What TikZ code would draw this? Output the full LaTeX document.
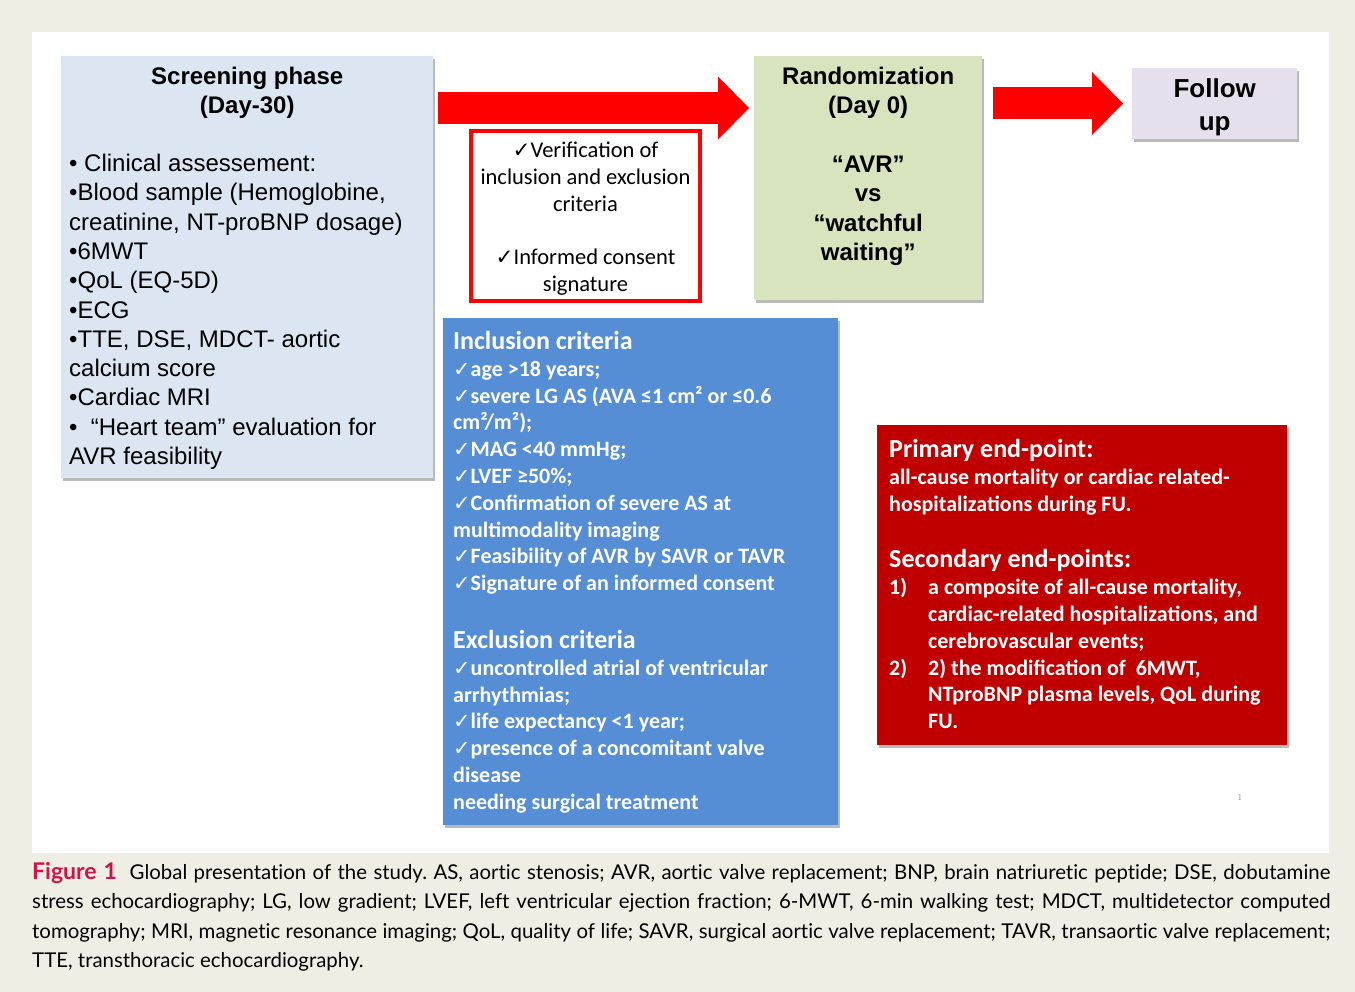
\documentclass[tikz,border=0pt]{standalone}
\usepackage{fontspec}
\usepackage{xcolor}
\usetikzlibrary{positioning, calc, arrows.meta, shadows}
\newfontfamily\arialfont{Liberation Sans}
\newfontfamily\califont{Carlito}
\newfontfamily\capfont{Lato}[Ligatures=NoCommon]
\newfontfamily\symfont{DejaVu Sans}[Scale=0.95]
\newcommand{\chk}{{\symfont ✓}}
\definecolor{pagebeige}{RGB}{239,238,228}
\definecolor{screenblue}{RGB}{220,230,242}
\definecolor{randgreen}{RGB}{215,228,189}
\definecolor{followlilac}{RGB}{230,224,236}
\definecolor{critblue}{RGB}{85,142,213}
\definecolor{endred}{RGB}{192,0,0}
\definecolor{arrowred}{RGB}{255,0,0}
\definecolor{figred}{RGB}{204,20,72}

\begin{document}
\begin{tikzpicture}[x=1pt, y=-1pt,
	box/.style={rectangle, anchor=north west, inner sep=0pt, drop shadow={shadow xshift=2pt, shadow yshift=-3pt, opacity=0.45, fill=black!60}},
	fatarrow/.style={arrowred, line width=32pt, -{Triangle[length=31pt, width=63pt, line width=0pt]}},
	arialtxt/.style={inner sep=0pt, font=\arialfont\fontsize{24}{29.3}\selectfont},
	arialhead/.style={inner sep=0pt, font=\arialfont\bfseries\fontsize{24}{29.3}\selectfont, align=center, anchor=north},
	calitxt/.style={inner sep=0pt, font=\califont\bfseries\fontsize{22}{26.8}\selectfont, text=white, align=left, anchor=north west}]
	\fill[pagebeige] (0,0) rectangle (1355,992);
	\useasboundingbox (0,0) rectangle (1355,992);
	\fill[white] (32,32) rectangle (1329,853);

	% top row
	\node[box, fill=screenblue, minimum width=372pt, minimum height=422pt] (screen) at (61,56) {};
	\node[arialhead] (screenhead) at ($(screen.north)+(0,11)$) {Screening phase\\(Day-30)};
	\node[arialtxt, align=left, anchor=north west] (screenlist) at ($(screen.north west)+(8,98)$) {%
		• Clinical assessement:\\
		•Blood sample (Hemoglobine,\\
		creatinine, NT-proBNP dosage)\\
		•6MWT\\
		•QoL (EQ-5D)\\
		•ECG\\
		•TTE, DSE, MDCT- aortic\\
		calcium score\\
		•Cardiac MRI\\
		•\ \ “Heart team” evaluation for\\
		AVR feasibility};

	\node[box, fill=randgreen, minimum width=228pt, minimum height=244pt] (rand) at (754,56) {};
	\node[arialhead] (randtxt) at ($(rand.north)+(0,11)$) {Randomization\\(Day 0)\\[29.3pt]“AVR”\\vs\\“watchful\\waiting”};

	\node[box, fill=followlilac, minimum width=165pt, minimum height=71pt] (follow) at (1132,68) {};
	\node[arialhead, font=\arialfont\bfseries\fontsize{26}{33}\selectfont] (followtxt) at ($(follow.north)+(0,10)$) {Follow\\up};

	\draw[fatarrow] ($(screen.north east)+(5,52)$) -- ($(rand.north west)+(-5,52)$);
	\draw[fatarrow] ($(rand.north east)+(11,47.5)$) -- ($(follow.north west)+(-9,35.5)$);

	% checks between screening and randomization
	\node[draw=arrowred, line width=4pt, minimum width=229pt, minimum height=170pt, anchor=north west] (verify) at (469,129) {};
	\node[inner sep=0pt, font=\califont\fontsize{22.5}{26.8}\selectfont, align=center, anchor=north] (verifytxt) at ($(verify.north)+(0,13)$) {%
		\chk Verification of\\
		inclusion and exclusion\\
		criteria\\[26.8pt]
		\chk Informed consent\\
		signature};

	% criteria
	\node[box, fill=critblue, minimum width=395pt, minimum height=507pt] (crit) at (443,318) {};
	\node[calitxt] (crittxt) at ($(crit.north west)+(10,13)$) {%
		{\fontsize{26}{26.8}\selectfont Inclusion criteria}\\
		\chk age >18 years;\\
		\chk severe LG AS (AVA ≤1 cm² or ≤0.6\\
		cm²/m²);\\
		\chk MAG <40 mmHg;\\
		\chk LVEF ≥50\%;\\
		\chk Confirmation of severe AS at\\
		multimodality imaging\\
		\chk Feasibility of AVR by SAVR or TAVR\\
		\chk Signature of an informed consent\\[31pt]
		{\fontsize{26}{26.8}\selectfont Exclusion criteria}\\
		\chk uncontrolled atrial of ventricular\\
		arrhythmias;\\
		\chk life expectancy <1 year;\\
		\chk presence of a concomitant valve\\
		disease\\
		needing surgical treatment};

	% end-points
	\node[box, fill=endred, minimum width=410pt, minimum height=320pt] (ends) at (877,425) {};
	\node[calitxt] (endstxt) at ($(ends.north west)+(12,14)$) {%
		{\fontsize{26}{26.8}\selectfont Primary end-point:}\\
		all-cause mortality or cardiac related-\\
		hospitalizations during FU.\\[30pt]
		{\fontsize{26}{26.8}\selectfont Secondary end-points:}\\
		\makebox[39pt][l]{1)}a composite of all-cause mortality,\\
		\hspace*{39pt}cardiac-related hospitalizations, and\\
		\hspace*{39pt}cerebrovascular events;\\
		\makebox[39pt][l]{2)}2) the modification of \ 6MWT,\\
		\hspace*{39pt}NTproBNP plasma levels, QoL during\\
		\hspace*{39pt}FU.};

	\node[inner sep=0pt, font=\fontsize{9}{9}\selectfont, text=black!45] (pagenum) at (1240,797) {1};

	% caption
	\node[inner sep=0pt, anchor=north west, text width=1298pt, align=justify, font=\capfont\fontsize{20.4}{29.4}\selectfont\frenchspacing] (caption) at (32,862) {%
		{\bfseries\color{figred}\fontsize{23}{29.4}\selectfont Figure 1}\ \ Global presentation of the study. AS, aortic stenosis; AVR, aortic valve replacement; BNP, brain natriuretic peptide; DSE, dobutamine\linebreak
		stress echocardiography; LG, low gradient; LVEF, left ventricular ejection fraction; 6-MWT, 6-min walking test; MDCT, multidetector computed\linebreak
		tomography; MRI, magnetic resonance imaging; QoL, quality of life; SAVR, surgical aortic valve replacement; TAVR, transaortic valve replacement;\linebreak
		TTE, transthoracic echocardiography.};
\end{tikzpicture}
\end{document}
